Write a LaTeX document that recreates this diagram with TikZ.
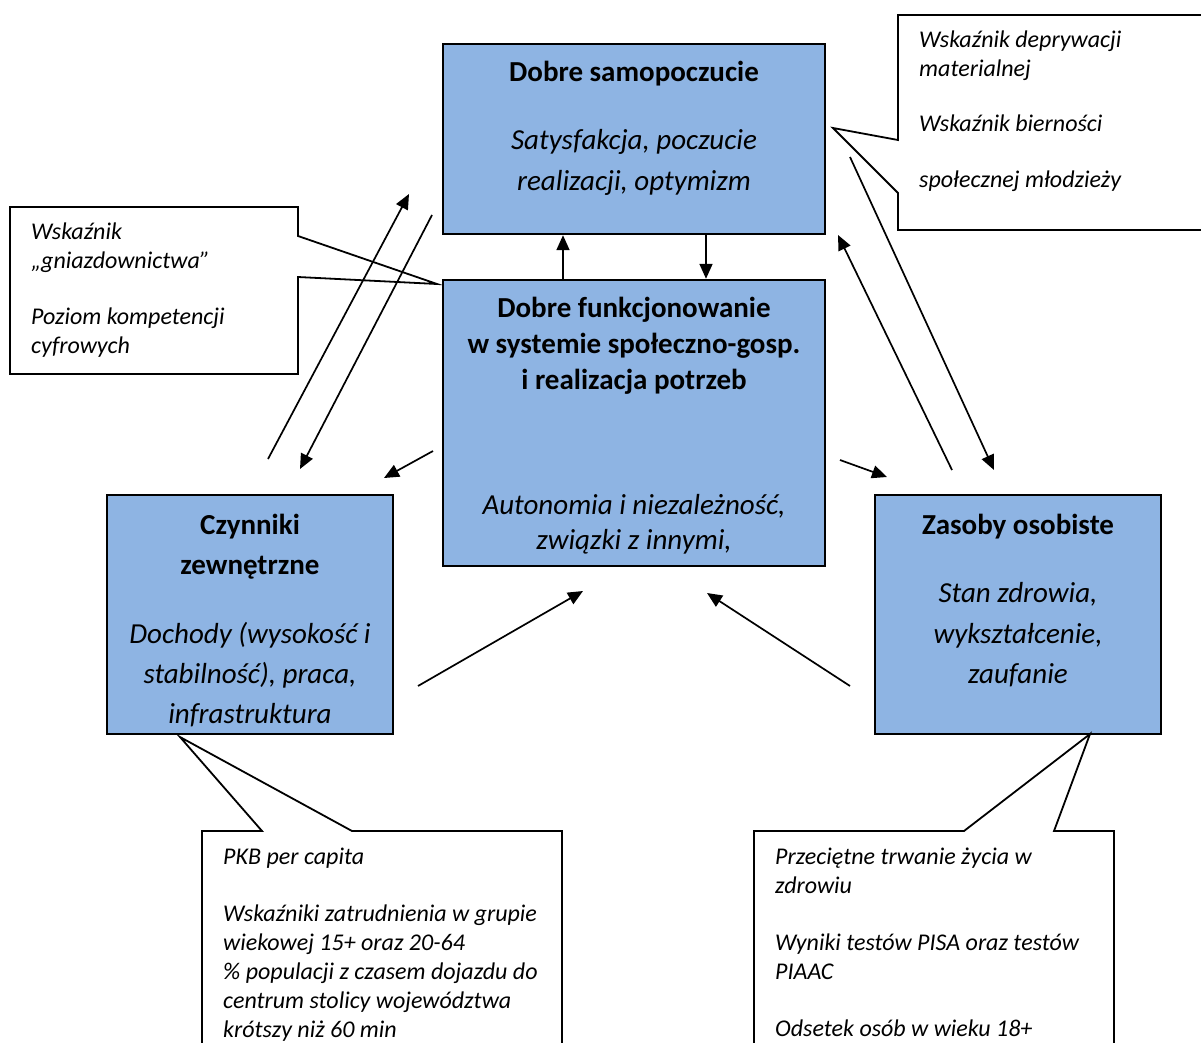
\documentclass[tikz,border=0pt]{standalone}
\usepackage{fontspec}
\setmainfont{Carlito}
\usetikzlibrary{arrows.meta}
\definecolor{boxblue}{HTML}{8EB4E3}
\tikzset{
  box/.style={draw, line width=2.4pt, fill=boxblue, inner sep=0pt},
  btext/.style={font=\fontsize{29}{40}\selectfont\bfseries, anchor=base, inner sep=0pt},
  itext/.style={font=\fontsize{29}{40}\selectfont\itshape, anchor=base, inner sep=0pt},
  ctext/.style={font=\fontsize{24}{29}\selectfont\itshape, anchor=base west, inner sep=0pt},
  callout/.style={draw, line width=1.8pt, fill=white, line join=miter},
  arr/.style={line width=1.7pt, -{Triangle[length=15pt,width=13pt]}},
}
\begin{document}
\begin{tikzpicture}[x=1pt,y=-1pt]
\useasboundingbox (0,0) rectangle (1201,1043);
\clip (0,0) rectangle (1201,1043);
\fill[white] (0,0) rectangle (1201,1043);

% main boxes
\node[box, minimum width=382pt, minimum height=190pt] (top) at (634,139) {};
\node[box, minimum width=382pt, minimum height=286pt] (cen) at (634,423) {};
\node[box, minimum width=286pt, minimum height=239pt] (lft) at (250,614.5) {};
\node[box, minimum width=286pt, minimum height=239pt] (rgt) at (1018,614.5) {};

% texts of main boxes
\node[btext] (t1) at (634,82) {Dobre samopoczucie};
\node[itext] (t2) at (634,150) {Satysfakcja, poczucie};
\node[itext] (t3) at (634,190) {realizacji, optymizm};

\node[btext] (c1) at (634,317) {Dobre funkcjonowanie};
\node[btext] (c2) at (634,353) {w systemie społeczno-gosp.};
\node[btext] (c3) at (634,389) {i realizacja potrzeb};
\node[itext] (c4) at (634,514) {Autonomia i niezależność,};
\node[itext] (c5) at (634,549) {związki z innymi,};

\node[btext] (l1) at (250,534) {Czynniki};
\node[btext] (l2) at (250,574) {zewnętrzne};
\node[itext] (l3) at (250,643) {Dochody (wysokość i};
\node[itext] (l4) at (250,683) {stabilność), praca,};
\node[itext] (l5) at (250,723) {infrastruktura};

\node[btext] (r1) at (1018,534) {Zasoby osobiste};
\node[itext] (r2) at (1018,602) {Stan zdrowia,};
\node[itext] (r3) at (1018,643) {wykształcenie,};
\node[itext] (r4) at (1018,683) {zaufanie};

% callouts
\draw[callout] (10,207) -- (298,207) -- (298,236) -- (437,284) -- (298,277) -- (298,374) -- (10,374) -- cycle;
\draw[callout] (898,15) -- (1215,15) -- (1215,230) -- (898,230) -- (898,193) -- (833,128) -- (898,140) -- cycle;
\draw[callout] (202,1060) -- (202,831) -- (262,831) -- (180,737) -- (352,831) -- (562,831) -- (562,1060);
\draw[callout] (754,1060) -- (754,831) -- (964,831) -- (1090,734) -- (1054,831) -- (1114,831) -- (1114,1060);

% callout texts
\node[ctext] (k1) at (31,239) {Wskaźnik};
\node[ctext] (k2) at (31,268) {„gniazdownictwa”};
\node[ctext] (k3) at (31,324) {Poziom kompetencji};
\node[ctext] (k4) at (31,353) {cyfrowych};

\node[ctext] (m1) at (919,48) {Wskaźnik deprywacji};
\node[ctext] (m2) at (919,77) {materialnej};
\node[ctext] (m3) at (919,132) {Wskaźnik bierności};
\node[ctext] (m4) at (919,187) {społecznej młodzieży};

\node[ctext] (p1) at (223,864) {PKB per capita};
\node[ctext] (p2) at (223,921) {Wskaźniki zatrudnienia w grupie};
\node[ctext] (p3) at (223,950) {wiekowej 15+ oraz 20-64};
\node[ctext] (p4) at (223,979) {\% populacji z czasem dojazdu do};
\node[ctext] (p5) at (223,1008) {centrum stolicy województwa};
\node[ctext] (p6) at (223,1037) {krótszy niż 60 min};

\node[ctext] (q1) at (775,864) {Przeciętne trwanie życia w};
\node[ctext] (q2) at (775,893) {zdrowiu};
\node[ctext] (q3) at (775,950) {Wyniki testów PISA oraz testów};
\node[ctext] (q4) at (775,979) {PIAAC};
\node[ctext] (q5) at (775,1036) {Odsetek osób w wieku 18+};

% connector coordinates
\coordinate (xa) at (563,0);
\coordinate (xb) at (706,0);
\coordinate (a0) at (268,459);  \coordinate (a1) at (409,194);
\coordinate (b0) at (432,215);  \coordinate (b1) at (300,469);
\coordinate (c0) at (433,451);  \coordinate (cc1) at (384,478);
\coordinate (f0) at (840,460);  \coordinate (f1) at (887,477);
\coordinate (g0) at (952,470);  \coordinate (g1) at (838,235);
\coordinate (h0) at (850,157);  \coordinate (h1) at (994,470);
\coordinate (i0) at (418,686);  \coordinate (i1) at (583,591);
\coordinate (j0) at (850,686);  \coordinate (j1) at (707,593);

% arrows
\draw[arr] (cen.north -| xa) -- (top.south -| xa);
\draw[arr] (top.south -| xb) -- (cen.north -| xb);
\draw[arr] (a0) -- (a1);
\draw[arr] (b0) -- (b1);
\draw[arr] (c0) -- (cc1);
\draw[arr] (f0) -- (f1);
\draw[arr] (g0) -- (g1);
\draw[arr] (h0) -- (h1);
\draw[arr] (i0) -- (i1);
\draw[arr] (j0) -- (j1);
\end{tikzpicture}
\end{document}
